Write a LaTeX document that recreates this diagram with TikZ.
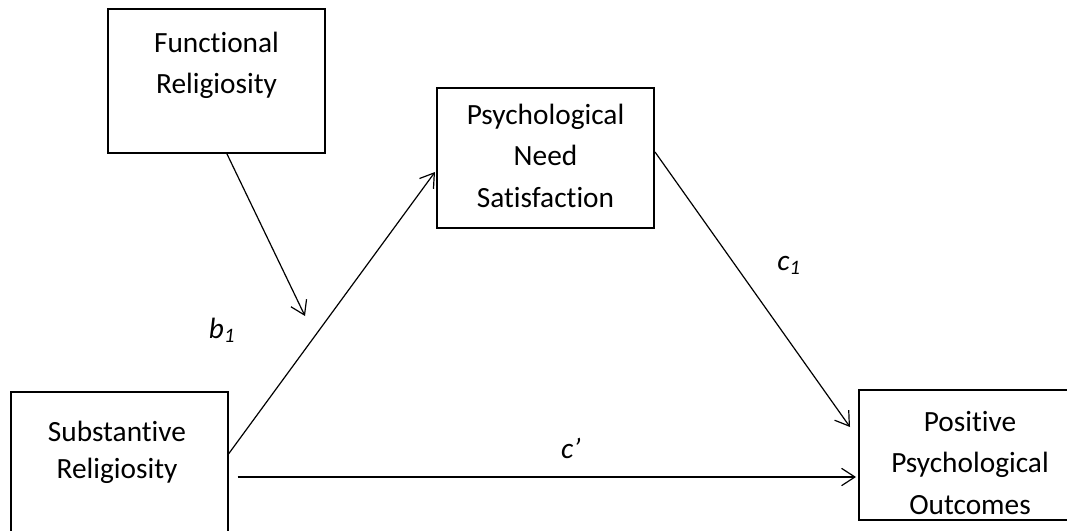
\documentclass[tikz,border=0pt]{standalone}
\usepackage{fontspec}
\setmainfont{Carlito}[Ligatures=NoCommon]
\usetikzlibrary{calc,arrows.meta}

\begin{document}
\begin{tikzpicture}[x=0.75pt,y=-0.75pt,
	box/.style={draw,line width=1.5pt,inner sep=0pt,minimum width=162.75pt},
	txt/.style={anchor=north,align=center,inner sep=0pt,font=\fontsize{22pt}{31pt}\selectfont},
	lbl/.style={inner sep=0pt,font=\fontsize{22pt}{26pt}\selectfont\itshape},
	arr/.style={line width=0.9pt,-{Straight Barb[length=10pt,width=13pt]}}]

	\useasboundingbox (0,0) rectangle (1067,531);

% coordinate %{{{2

	\coordinate (mod) at (305,316);

% boxes %{{{2

	\node[box,minimum height=108pt] (func) at (216.5,81) {};
	\node[box,minimum height=105pt] (need) at (545.5,158) {};
	\node[box,minimum height=111pt] (subst) at (119,466) {};
	\node[box,minimum height=97.5pt,minimum width=180pt] (pos) at (979,455) {};

% boxes text %{{{2

	\node[txt] (functxt) at (216.5,32) {Functional\\Religiosity};
	\node[txt] (needtxt) at (545.5,104) {Psychological\\Need\\Satisfaction};
	\node[txt,font=\fontsize{22pt}{28pt}\selectfont] (substtxt) at (117,421) {Substantive\\Religiosity};
	\node[txt] (postxt) at (970,411) {Positive\\Psychological\\Outcomes};

% paths %{{{2

	\draw[arr] ($(func.south)+(10.5,0)$) -- (mod);
	\draw[arr] ($(subst.north east)+(0,63)$) -- ($(need.west)+(-1,14)$);
	\draw[arr] ($(need.east)+(0,-6)$) -- ($(pos.north west)+(-8,38)$);
	\draw[arr] ($(subst.east)+(9,11)$) -- ($(pos.west)+(-2,22)$);

% paths labels %{{{2

	\node[lbl] (b1) at (222,330) {b\textsubscript{1}};
	\node[lbl] (c1) at (789,265) {c\textsubscript{1}};
	\node[lbl] (c) at (571,448) {c’};

\end{tikzpicture}
\end{document}
